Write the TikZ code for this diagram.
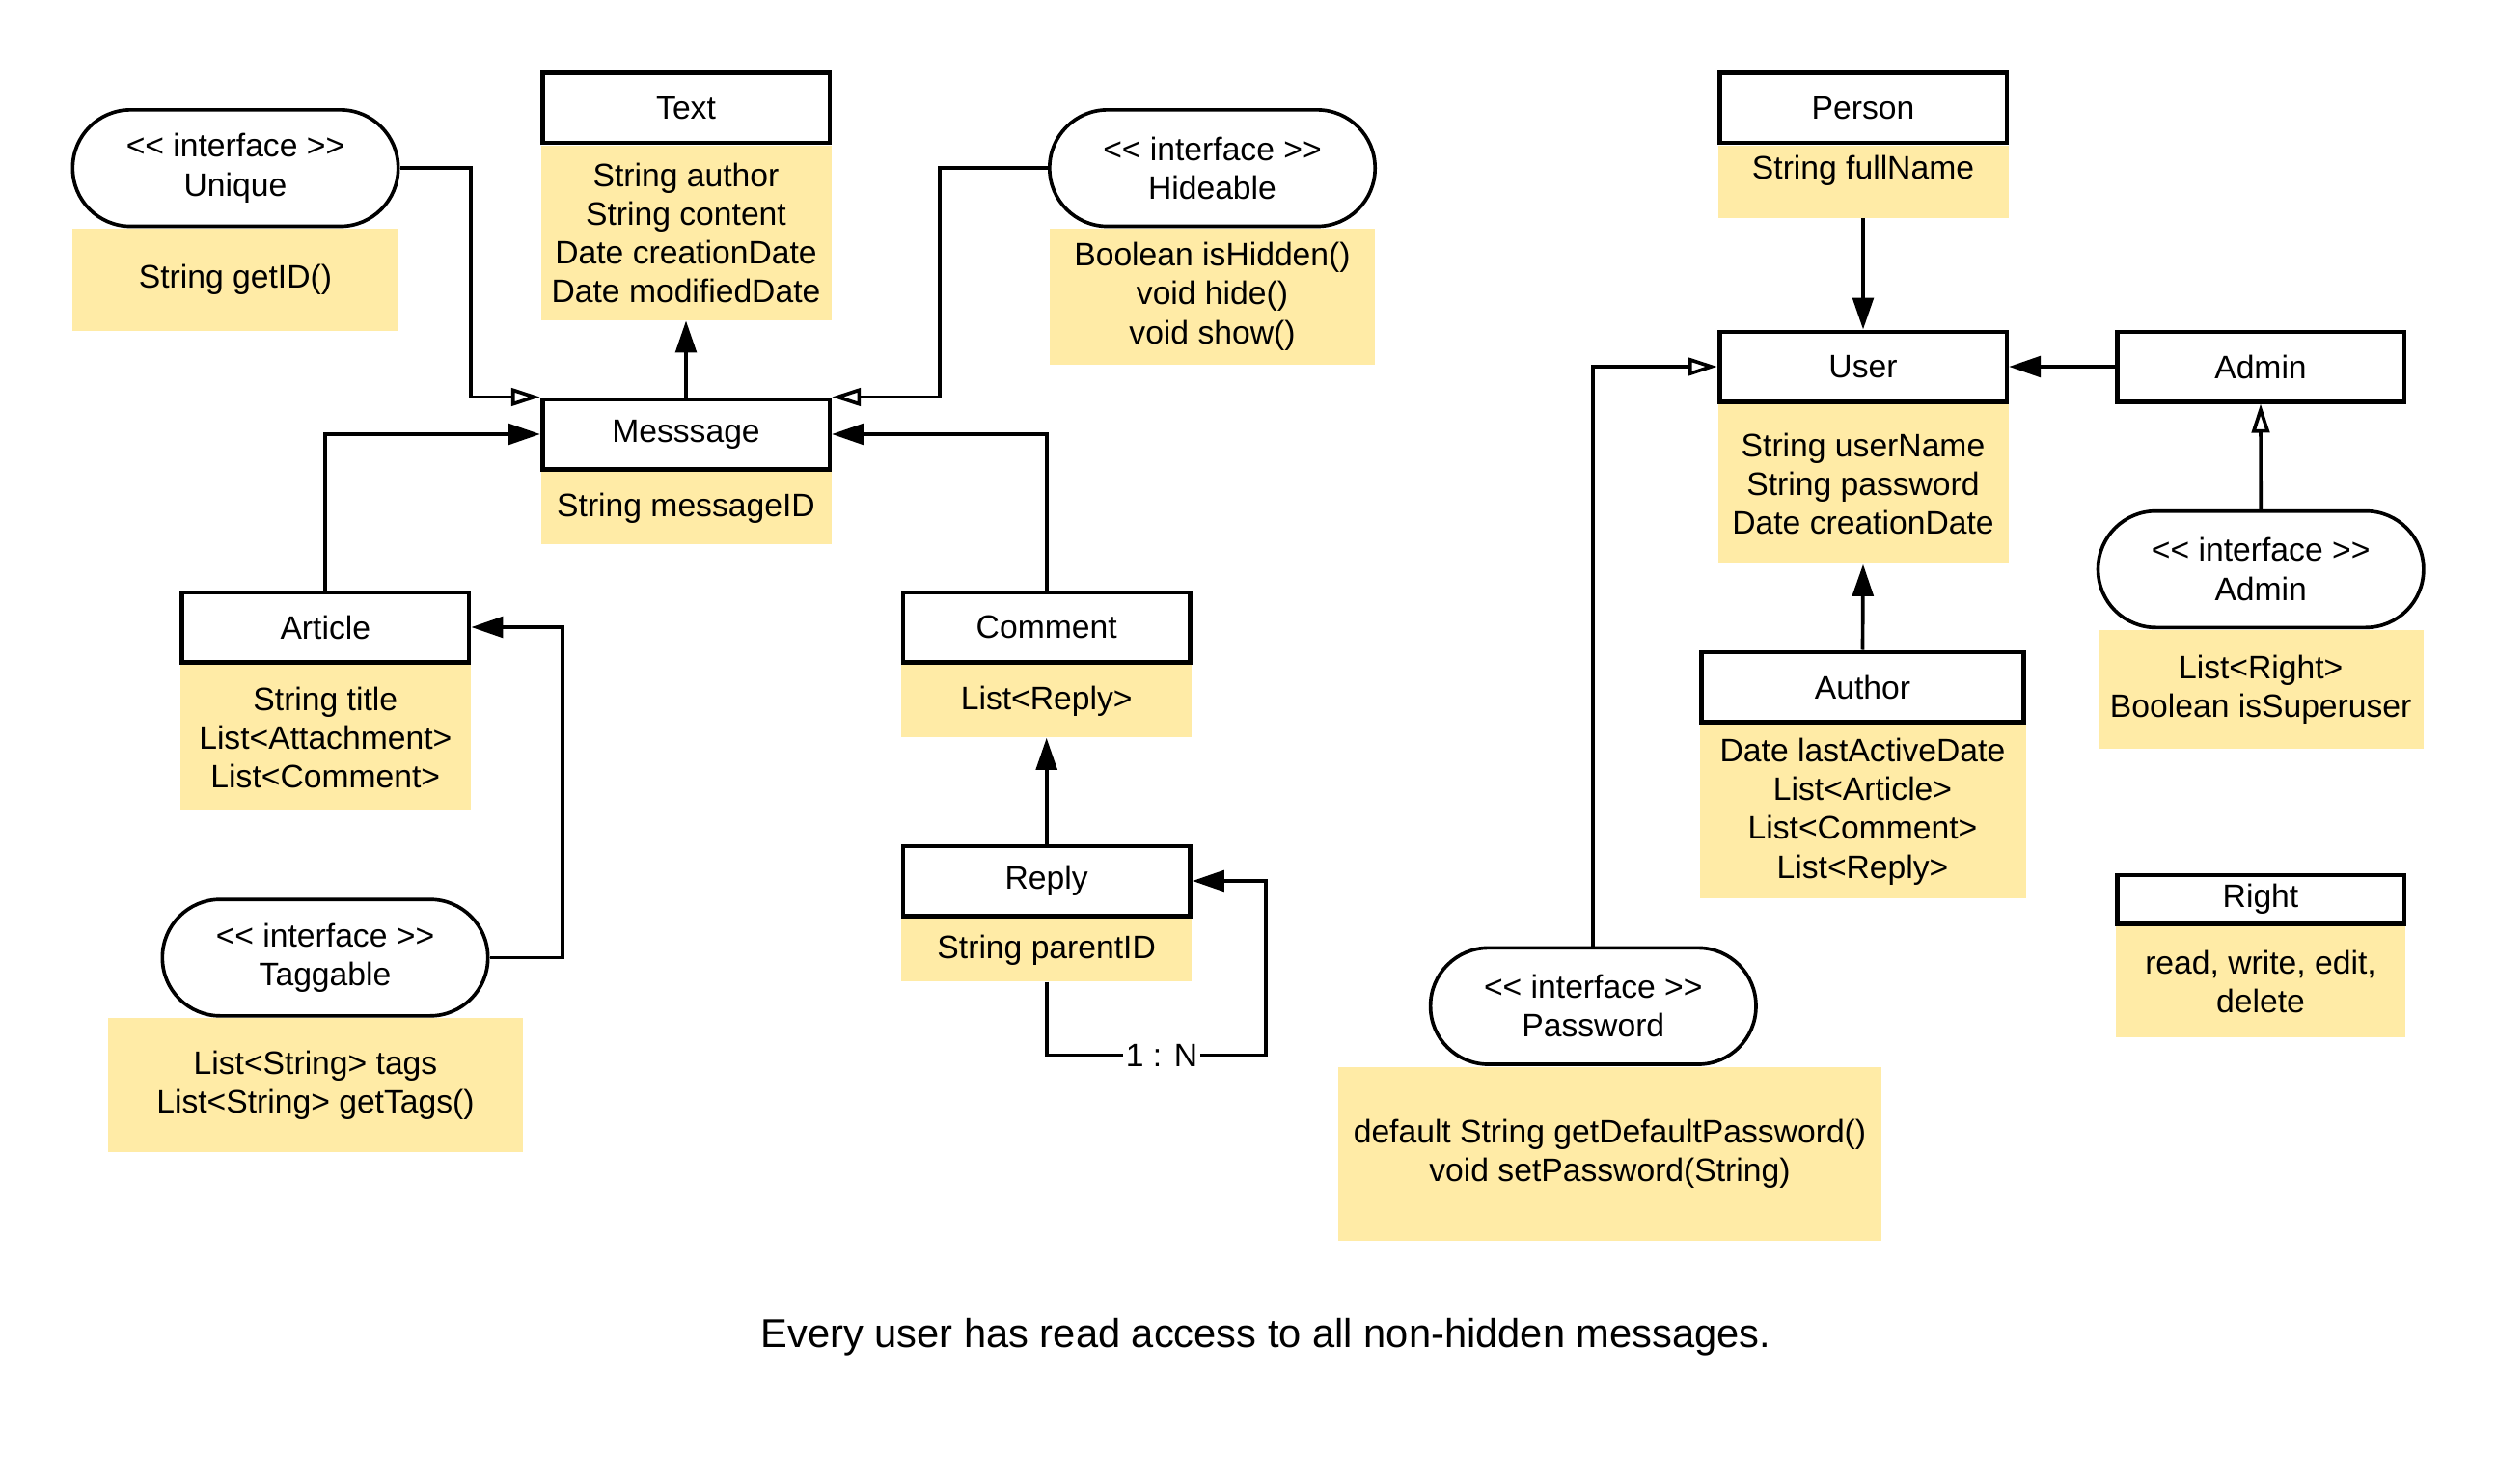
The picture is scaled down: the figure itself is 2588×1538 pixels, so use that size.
\documentclass[tikz,border=0pt]{standalone}
\usepackage{fontspec}
\setmainfont{Liberation Sans}
\usetikzlibrary{positioning}
\usetikzlibrary{calc}
\usetikzlibrary{arrows.meta}
\definecolor{attrfill}{RGB}{255,235,166}

\begin{document}
\begin{tikzpicture}[x=0.3pt, y=-0.3pt, font=\fontsize{10.1}{12.06}\selectfont,
    hdr/.style={draw, line width=1.4pt, fill=white, minimum width=89.3pt, minimum height=21.7pt, inner sep=0pt},
    attr/.style={fill=attrfill, align=center, minimum width=90.3pt, inner sep=0pt},
    iface/.style={draw, line width=1.1pt, fill=white, rounded corners=18pt, minimum width=101.2pt, minimum height=36.2pt, align=center, inner sep=0pt},
    link/.style={line width=1.1pt, -{Triangle[length=9.9pt, width=6.5pt]}},
    impl/.style={line width=1.1pt, -{Triangle[open, length=9pt, width=5.5pt]}}]
    \useasboundingbox (0,0) rectangle (2588,1538);

    % Nachrichten
    \node [hdr] (text) at (711,112) {Text};
    \node [attr, minimum height=54.2pt, below=0pt of text] (textA) {String author\\String content\\Date creationDate\\Date modifiedDate};
    \node [hdr] (msg) at (711,450) {Messsage};
    \node [attr, minimum height=22.35pt, below=0pt of msg] (msgA) {String messageID};
    \node [hdr] (article) at (337.3,650) {Article};
    \node [attr, minimum height=45pt, below=0pt of article] (articleA) {String title\\List<Attachment>\\List<Comment>};
    \node [hdr] (comment) at (1084.7,650) {Comment};
    \node [attr, minimum height=22.5pt, below=0pt of comment] (commentA) {List<Reply>};
    \node [hdr] (reply) at (1084.7,913) {Reply};
    \node [attr, minimum height=19.4pt, below=0pt of reply] (replyA) {String parentID};

    % Interfaces links
    \node [iface] (unique) at (244,174.2) {<{}< interface >{}>\\Unique};
    \node [attr, minimum width=101.4pt, minimum height=31.65pt, below=0pt of unique] (uniqueA) {String getID()};
    \node [iface] (hide) at (1256.5,174.2) {<{}< interface >{}>\\Hideable};
    \node [attr, minimum width=101.1pt, minimum height=42.15pt, below=0pt of hide] (hideA) {Boolean isHidden()\\void hide()\\void show()};
    \node [iface] (tag) at (337,992.5) {<{}< interface >{}>\\Taggable};
    \node [attr, minimum width=129pt, minimum height=41.7pt, below=0pt of tag, xshift=-3pt] (tagA) {List<String> tags\\List<String> getTags()};

    % Benutzer
    \node [hdr] (person) at (1931,112) {Person};
    \node [attr, minimum height=22.4pt, text depth=9pt, below=0pt of person] (personA) {String fullName};
    \node [hdr] (user) at (1931,380) {User};
    \node [attr, minimum height=49.5pt, below=0pt of user] (userA) {String userName\\String password\\Date creationDate};
    \node [hdr] (admin) at (2343,380) {Admin};
    \node [hdr, minimum width=100.3pt] (author) at (1930.5,712) {Author};
    \node [attr, minimum width=101.4pt, minimum height=54pt, below=0pt of author] (authorA) {Date lastActiveDate\\List<Article>\\List<Comment>\\List<Reply>};
    \node [hdr, minimum height=15.1pt] (right) at (2343,932) {Right};
    \node [attr, minimum width=90pt, minimum height=34.4pt, below=0pt of right] (rightA) {read, write, edit,\\delete};

    % Interfaces rechts
    \node [iface] (adminI) at (2343.2,590) {<{}< interface >{}>\\Admin};
    \node [attr, minimum width=101.1pt, minimum height=37.05pt, below=0pt of adminI] (adminIA) {List<Right>\\Boolean isSuperuser};
    \node [iface] (pass) at (1651.3,1042.7) {<{}< interface >{}>\\Password};
    \node [attr, minimum width=168.9pt, minimum height=54.15pt, below=0pt of pass, xshift=5.16pt] (passA) {default String getDefaultPassword()\\void setPassword(String)};

    \node [anchor=base, font=\fontsize{12.5}{14}\selectfont] (note) at (1312,1396) {Every user has read access to all non-hidden messages.};

    % Verbindungen
    \draw [impl] (unique.east) -- ++(73.6,0) |- (msg.north west);
    \draw [impl] (hide.west) -- ++(-112,0) |- (msg.north east);
    \draw [link] (msg.north) -- (textA.south);
    \draw [link] (article.north) |- (msg.west);
    \draw [link] (comment.north) |- (msg.east);
    \draw [link] (tag.east) -- ++(75.6,0) |- (article.east);
    \draw [link] (reply.north) -- (commentA.south);
    \draw [link] (replyA.south) -- ++(0,76) -- node [pos=0.525, fill=white, inner sep=1pt] {1 : N} ++(227.3,0) |- (reply.east);
    \draw [link] (personA.south) -- (user.north);
    \draw [link] (admin.west) -- (user.east);
    \draw [impl] (adminI.north) -- (admin.south);
    \draw [link] (author.north) -- (userA.south);
    \draw [impl] (pass.north) |- (user.west);
\end{tikzpicture}
\end{document}
